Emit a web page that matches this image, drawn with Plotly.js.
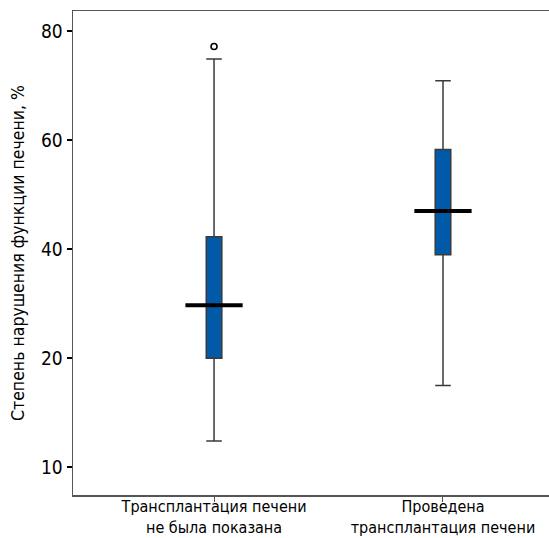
<!DOCTYPE html>
<html><head><meta charset="utf-8">
<script src="https://cdn.plot.ly/plotly-3.0.1.min.js"></script>
<style>html,body{margin:0;padding:0;background:#fff}</style>
</head><body><div id="chart" style="width:549px;height:538px"></div>
<script>
// Data (values in %)
const categories = ['Трансплантация печени<br>не была показана', 'Проведена<br>трансплантация печени'];
const lowerWhisker = [12.4, 17.5];
const q1Values = [20, 39];
const medianValues = [29.7, 47];
const q3Values = [42.3, 58.3];
const upperWhisker = [74.9, 70.9];
const outlierValues = [77.2];
const outlierGroup = [0];
const tickLabels = [10, 20, 40, 60, 80];

// The axis below 20 is drawn stretched: 10..20 occupies the same height as 20..40
function f(v){ return v >= 20 ? v : 20 - (20 - v) * 2; }

const pos = categories.map((c, i) => i);
const FONT = '"Liberation Sans Narrow", "DejaVu Sans Condensed", "Liberation Sans", sans-serif';

const traces = [{
  type: 'box',
  x: pos,
  q1: q1Values.map(f),
  median: medianValues.map(f),
  q3: q3Values.map(f),
  lowerfence: lowerWhisker.map(f),
  upperfence: upperWhisker.map(f),
  width: 0.068,
  whiskerwidth: 1,
  fillcolor: '#005aa8',
  line: {color: '#3a3a3a', width: 1.5},
  hoverinfo: 'skip',
  showlegend: false
}];
pos.forEach((p, i) => {
  traces.push({
    type: 'scatter', mode: 'lines',
    x: [p - 0.125, p + 0.125],
    y: [f(medianValues[i]), f(medianValues[i])],
    line: {color: '#000', width: 4},
    hoverinfo: 'skip', showlegend: false
  });
});
traces.push({
  type: 'scatter', mode: 'markers',
  x: outlierGroup.map(g => pos[g]),
  y: outlierValues.map(f),
  marker: {symbol: 'circle-open', size: 6, color: '#000', line: {width: 1.6, color: '#000'}},
  hoverinfo: 'skip', showlegend: false
});

const layout = {
  width: 549, height: 538,
  margin: {l: 73, r: 0, t: 11, b: 43},
  paper_bgcolor: '#fff', plot_bgcolor: '#fff',
  font: {family: FONT, color: '#000'},
  xaxis: {
    range: [-0.616, 1.463],
    tickvals: pos, ticktext: categories,
    ticks: 'outside', ticklen: 5, tickcolor: '#555', tickwidth: 1,
    ticklabelstandoff: -9,
    showline: true, linecolor: '#555', linewidth: 1.5, mirror: true,
    showgrid: false, zeroline: false,
    tickfont: {size: 16, family: FONT, color: '#000'}
  },
  yaxis: {
    range: [-5.1, 83.7],
    tickvals: tickLabels.map(f), ticktext: tickLabels.map(String),
    ticks: 'outside', ticklen: 5, tickcolor: '#000', tickwidth: 1.5,
    showline: true, linecolor: '#555', linewidth: 1.5, mirror: false,
    showgrid: false, zeroline: false,
    tickfont: {size: 19, family: FONT, color: '#000'},
    title: {text: 'Степень нарушения функции печени, %', font: {size: 17.5, family: FONT, color: '#000'}, standoff: 12}
  }
};
Plotly.newPlot('chart', traces, layout, {displayModeBar: false, staticPlot: true});
</script></body></html>
